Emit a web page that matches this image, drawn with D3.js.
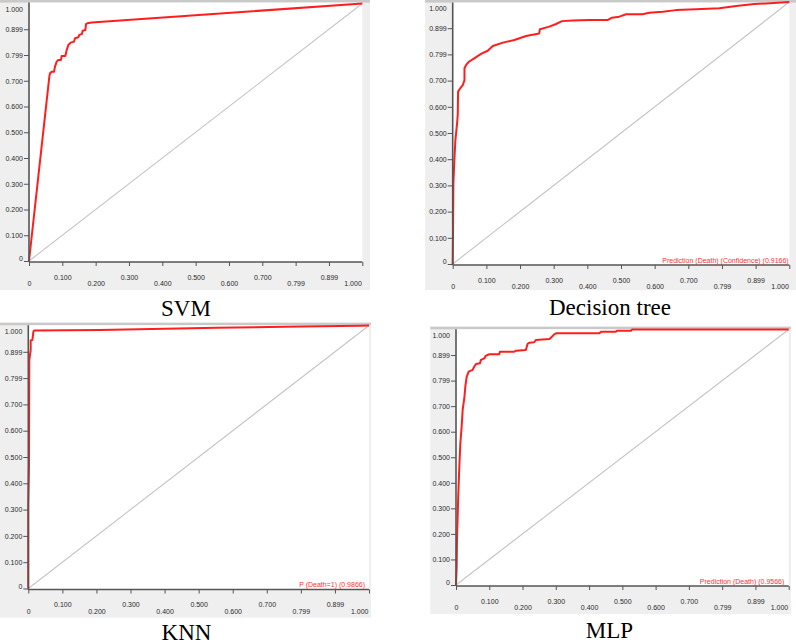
<!DOCTYPE html>
<html>
<head>
<meta charset="utf-8">
<script src="https://cdn.jsdelivr.net/npm/d3@7"></script>
<style>
  html, body { margin: 0; padding: 0; background: #ffffff; }
  svg { display: block; }
</style>
</head>
<body>
<svg id="chart" width="796" height="644"></svg>
<script>
// ---- data ----
const tickValues = [0, 0.1, 0.2, 0.3, 0.4, 0.5, 0.6, 0.7, 0.8, 0.9, 1.0];
const tickLabels = ["0", "0.100", "0.200", "0.300", "0.400", "0.500", "0.600", "0.700", "0.799", "0.899", "1.000"];

const modelNames = ["SVM", "Decision tree", "KNN", "MLP"];
const legendLabels = ["", "Prediction (Death) (Confidence) (0.9166)", "P (Death=1) (0.9866)", "Prediction (Death) (0.9566)"];

const svmFpr = [0, 0.061, 0.063, 0.068, 0.075, 0.078, 0.083, 0.088, 0.096, 0.098, 0.109, 0.113, 0.118, 0.125, 0.135, 0.138, 0.148, 0.151, 0.159, 0.161, 0.169, 0.171, 0.175, 0.188, 1.0];
const svmTpr = [0, 0.716, 0.729, 0.735, 0.735, 0.755, 0.774, 0.781, 0.781, 0.796, 0.796, 0.819, 0.839, 0.848, 0.852, 0.865, 0.869, 0.878, 0.882, 0.894, 0.897, 0.920, 0.923, 0.926, 1.0];

const dtFpr = [0, 0.001, 0.002, 0.005, 0.008, 0.010, 0.013, 0.015, 0.016, 0.022, 0.030, 0.035, 0.035, 0.040, 0.048, 0.064, 0.084, 0.104, 0.119, 0.149, 0.183, 0.218, 0.257, 0.259, 0.287, 0.307, 0.325, 0.356, 0.406, 0.460, 0.473, 0.495, 0.515, 0.564, 0.584, 0.624, 0.663, 0.723, 0.792, 0.842, 0.896, 1.0];
const dtTpr = [0, 0.117, 0.308, 0.397, 0.473, 0.499, 0.537, 0.569, 0.658, 0.670, 0.683, 0.702, 0.747, 0.760, 0.772, 0.785, 0.802, 0.814, 0.832, 0.845, 0.855, 0.870, 0.880, 0.896, 0.906, 0.916, 0.927, 0.929, 0.931, 0.931, 0.940, 0.944, 0.953, 0.953, 0.959, 0.963, 0.969, 0.972, 0.976, 0.985, 0.992, 1.0];

const knnFpr = [0, 0, 0.002, 0.003, 0.007, 0.007, 0.012, 0.015, 0.017, 0.210, 0.553, 0.797, 0.974, 1.0];
const knnTpr = [0, 0.317, 0.463, 0.869, 0.907, 0.943, 0.945, 0.977, 0.981, 0.983, 0.991, 0.996, 0.999, 1.0];

const mlpFpr = [0, 0.002, 0.003, 0.005, 0.007, 0.010, 0.013, 0.017, 0.020, 0.025, 0.028, 0.032, 0.038, 0.050, 0.055, 0.060, 0.072, 0.075, 0.085, 0.090, 0.100, 0.130, 0.132, 0.175, 0.180, 0.210, 0.215, 0.220, 0.235, 0.240, 0.261, 0.281, 0.286, 0.296, 0.301, 0.431, 0.436, 0.481, 0.483, 0.526, 0.529, 1.0];
const mlpTpr = [0, 0.072, 0.176, 0.267, 0.359, 0.463, 0.554, 0.620, 0.685, 0.731, 0.776, 0.815, 0.835, 0.842, 0.855, 0.865, 0.868, 0.881, 0.887, 0.898, 0.903, 0.903, 0.913, 0.913, 0.917, 0.920, 0.943, 0.948, 0.950, 0.959, 0.961, 0.963, 0.969, 0.982, 0.985, 0.985, 0.991, 0.991, 0.995, 0.995, 1.0, 1.0];

const series = [
  { fpr: svmFpr, tpr: svmTpr },
  { fpr: dtFpr, tpr: dtTpr },
  { fpr: knnFpr, tpr: knnTpr },
  { fpr: mlpFpr, tpr: mlpTpr }
];

// ---- layout (pixel geometry of each panel) ----
const panels = [
  { bg: [0, 0, 370, 290],       px: [29, 362.3],   py: [261, 3.5],   title: [186, 316], legendX: 0 },
  { bg: [425, 0, 371, 290],     px: [452.7, 789.3], py: [264, 2],    title: [610, 315], legendX: 788.7 },
  { bg: [0, 322.7, 371, 295],   px: [28.3, 369],   py: [588.5, 325.5], title: [186.5, 639.5], legendX: 365 },
  { bg: [430.3, 326.7, 360.7, 287.3], px: [456, 788.7], py: [585, 329.5], title: [609.5, 638], legendX: 784.3 }
];

const svg = d3.select("#chart");
const tickFont = "'Liberation Sans', Arial, sans-serif";

panels.forEach((p, k) => {
  const g = svg.append("g");
  const [bx, by, bw, bh] = p.bg;
  const x = d3.scaleLinear().domain([0, 1]).range(p.px);
  const y = d3.scaleLinear().domain([0, 1]).range(p.py);
  const axisY = p.py[0] + 1;

  // grey panel background
  g.append("rect").attr("x", bx).attr("y", by).attr("width", bw).attr("height", bh).attr("fill", "#efefef");
  // top band
  g.append("rect").attr("x", bx).attr("y", by).attr("width", bw).attr("height", 2.6).attr("fill", "#c9c9c9");
  // white plot area
  g.append("rect").attr("x", p.px[0]).attr("y", by + 2.6)
    .attr("width", p.px[1] - p.px[0]).attr("height", axisY - by - 2.6).attr("fill", "#ffffff");

  // diagonal reference
  g.append("line")
    .attr("x1", x(0)).attr("y1", y(0)).attr("x2", x(1)).attr("y2", y(1))
    .attr("stroke", "#c4c4c4").attr("stroke-width", 1.1);

  // ROC curve
  const pts = series[k].fpr.map((f, i) => [f, series[k].tpr[i]]);
  g.append("path")
    .datum(pts)
    .attr("fill", "none")
    .attr("stroke", "#ff1e1e")
    .attr("stroke-width", 2)
    .attr("stroke-linejoin", "round")
    .attr("d", d3.line().x(d => x(d[0])).y(d => y(d[1])));

  // Y axis
  const yAx = g.append("g").attr("transform", `translate(${p.px[0]},0)`)
    .call(d3.axisLeft(y).tickValues(tickValues).tickSize(5).tickSizeOuter(0).tickPadding(1)
      .tickFormat((d, i) => tickLabels[i]));
  yAx.select(".domain").attr("d", `M0,${by + 2.6}V${axisY}`).attr("stroke", "#555").attr("stroke-width", 1.6);
  yAx.selectAll(".tick line").attr("stroke", "#555");
  yAx.selectAll(".tick text").attr("font-family", tickFont).attr("font-size", 7).attr("fill", "#2a2a2a");
  yAx.selectAll(".tick").filter(d => d === 1).select("line").remove();
  yAx.selectAll(".tick").filter(d => d === 1).select("text").attr("y", 5.8);
  yAx.selectAll(".tick").filter(d => d === 0).select("text").attr("y", -2.4);

  // X axis
  const xAx = g.append("g").attr("transform", `translate(0,${axisY})`)
    .call(d3.axisBottom(x).tickValues(tickValues).tickSize(4).tickSizeOuter(0)
      .tickFormat((d, i) => tickLabels[i]));
  xAx.select(".domain").attr("d", `M${p.px[0]},0H${p.px[1]}`).attr("stroke", "#555").attr("stroke-width", 1.6);
  xAx.selectAll(".tick line").attr("stroke", "#555");
  xAx.selectAll(".tick text")
    .attr("font-family", tickFont).attr("font-size", 7).attr("fill", "#2a2a2a")
    .attr("dy", "0.35em")
    .attr("y", (d, i) => (i % 2 === 1 ? 15.3 : 21.8));
  xAx.selectAll(".tick").filter(d => d === 1).select("text").attr("text-anchor", "end").attr("x", -1);

  // legend text
  if (legendLabels[k]) {
    g.append("text")
      .attr("x", p.legendX)
      .attr("y", y(0) - 3.5)
      .attr("text-anchor", "end")
      .attr("dy", "0.35em")
      .attr("font-family", tickFont)
      .attr("font-size", 7)
      .attr("fill", "#ff3030")
      .text(legendLabels[k]);
  }

  // title
  svg.append("text")
    .attr("x", p.title[0]).attr("y", p.title[1])
    .attr("text-anchor", "middle")
    .attr("font-family", "'Liberation Serif', 'Times New Roman', serif")
    .attr("font-size", 23)
    .attr("fill", "#000")
    .text(modelNames[k]);
});
</script>
</body>
</html>
